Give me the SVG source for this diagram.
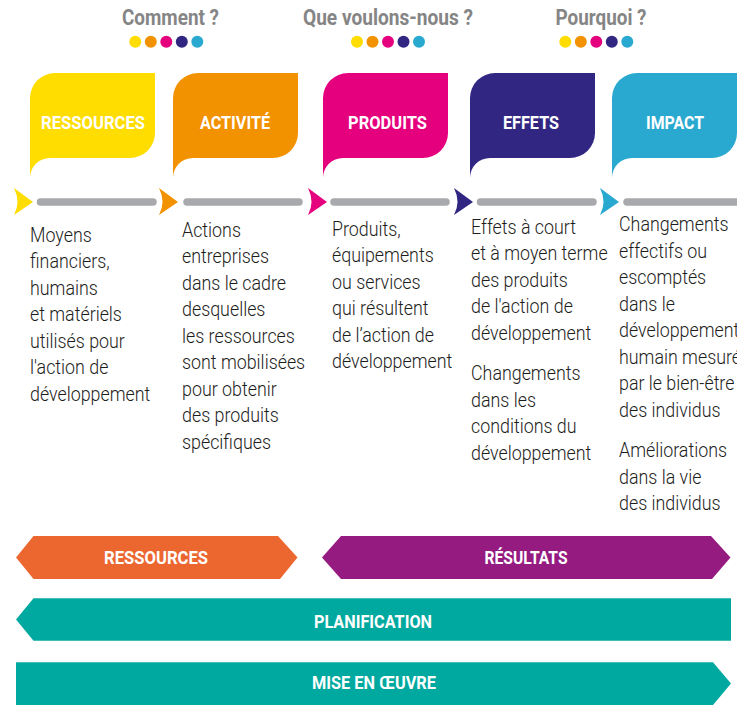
<svg xmlns="http://www.w3.org/2000/svg" xmlns:xlink="http://www.w3.org/1999/xlink" width="737" height="705" viewBox="0 0 737 705">
<style>
.hdr{font-family:Roboto,"Liberation Sans",sans-serif;font-weight:700;font-size:22px;fill:#858585;}
.lbl{font-family:Roboto,"Liberation Sans",sans-serif;font-weight:700;font-size:19px;fill:#ffffff;}
.body{font-family:Roboto,"Liberation Sans",sans-serif;font-weight:300;font-size:21px;fill:#1d1d1b;}
.bar{stroke:#a7a9ac;stroke-width:7.5;stroke-linecap:round;fill:none;}
</style>
<defs>
<path id="bubble" d="M0,105 L0,25 A25,25 0 0 1 25,0 L125,0 L125,60 A25,25 0 0 1 100,85 L20,85 A20,20 0 0 0 0,105 Z"/>
<path id="chev" d="M-19,-14 L0,0 L-19,13 Q-12,0 -19,-14 Z"/>
</defs>

<g id="headers">
<text class="hdr" x="170.5" y="25" text-anchor="middle" textLength="97" lengthAdjust="spacingAndGlyphs">Comment ?</text>
<text class="hdr" x="388" y="25" text-anchor="middle" textLength="170" lengthAdjust="spacingAndGlyphs">Que voulons-nous ?</text>
<text class="hdr" x="601" y="25" text-anchor="middle" textLength="91" lengthAdjust="spacingAndGlyphs">Pourquoi ?</text>
</g>
<g id="dots">
<g transform="translate(135.3,41.7)"><circle cx="0" r="6" fill="#ffdd00"/><circle cx="15.5" r="6" fill="#f39200"/><circle cx="31" r="6" fill="#e5007d"/><circle cx="46.5" r="6" fill="#312782"/><circle cx="62" r="6" fill="#29a9d0"/></g>
<g transform="translate(357,41.7)"><circle cx="0" r="6" fill="#ffdd00"/><circle cx="15.5" r="6" fill="#f39200"/><circle cx="31" r="6" fill="#e5007d"/><circle cx="46.5" r="6" fill="#312782"/><circle cx="62" r="6" fill="#29a9d0"/></g>
<g transform="translate(565.3,41.7)"><circle cx="0" r="6" fill="#ffdd00"/><circle cx="15.5" r="6" fill="#f39200"/><circle cx="31" r="6" fill="#e5007d"/><circle cx="46.5" r="6" fill="#312782"/><circle cx="62" r="6" fill="#29a9d0"/></g>
</g>

<g id="connectors">
<line class="bar" x1="40.5" y1="202" x2="153" y2="202"/>
<line class="bar" x1="187" y1="202" x2="299" y2="202"/>
<line class="bar" x1="334" y1="202" x2="446" y2="202"/>
<line class="bar" x1="480.5" y1="202" x2="593" y2="202"/>
<line class="bar" x1="627" y1="202" x2="745" y2="202"/>
<use xlink:href="#chev" href="#chev" transform="translate(33,202)" fill="#ffdd00"/>
<use xlink:href="#chev" href="#chev" transform="translate(178,202)" fill="#f39200"/>
<use xlink:href="#chev" href="#chev" transform="translate(327,202)" fill="#e5007d"/>
<use xlink:href="#chev" href="#chev" transform="translate(473,202)" fill="#312782"/>
<use xlink:href="#chev" href="#chev" transform="translate(619,202)" fill="#29a9d0"/>
</g>

<g id="ressources">
<use xlink:href="#bubble" href="#bubble" transform="translate(30,73)" fill="#ffdd00"/>
<text class="lbl" x="93" y="128.5" text-anchor="middle" textLength="104" lengthAdjust="spacingAndGlyphs">RESSOURCES</text>
<g transform="translate(30,0) scale(0.85,1)" class="body">
<text x="0" y="242">Moyens</text>
<text x="0" y="268.5">financiers,</text>
<text x="0" y="295">humains</text>
<text x="0" y="321.5">et matériels</text>
<text x="0" y="348">utilisés pour</text>
<text x="0" y="374.5">l'action de</text>
<text x="0" y="401">développement</text>
</g>
</g>

<g id="activite">
<use xlink:href="#bubble" href="#bubble" transform="translate(173,73)" fill="#f39200"/>
<text class="lbl" x="235" y="128.5" text-anchor="middle" textLength="70" lengthAdjust="spacingAndGlyphs">ACTIVITÉ</text>
<g transform="translate(182,0) scale(0.85,1)" class="body">
<text x="0" y="237">Actions</text>
<text x="0" y="263.5">entreprises</text>
<text x="0" y="290">dans le cadre</text>
<text x="0" y="316.5">desquelles</text>
<text x="0" y="343">les ressources</text>
<text x="0" y="369.5">sont mobilisées</text>
<text x="0" y="396">pour obtenir</text>
<text x="0" y="422.5">des produits</text>
<text x="0" y="449">spécifiques</text>
</g>
</g>

<g id="produits">
<use xlink:href="#bubble" href="#bubble" transform="translate(323,73)" fill="#e5007d"/>
<text class="lbl" x="387.5" y="128.5" text-anchor="middle" textLength="79" lengthAdjust="spacingAndGlyphs">PRODUITS</text>
<g transform="translate(332,0) scale(0.85,1)" class="body">
<text x="0" y="236">Produits,</text>
<text x="0" y="262.5">équipements</text>
<text x="0" y="289">ou services</text>
<text x="0" y="315.5">qui résultent</text>
<text x="0" y="342">de l’action de</text>
<text x="0" y="368.5">développement</text>
</g>
</g>

<g id="effets">
<use xlink:href="#bubble" href="#bubble" transform="translate(470,73)" fill="#312782"/>
<text class="lbl" x="531" y="128.5" text-anchor="middle" textLength="56" lengthAdjust="spacingAndGlyphs">EFFETS</text>
<g transform="translate(471,0) scale(0.85,1)" class="body">
<text x="0" y="234">Effets à court</text>
<text x="0" y="260.5">et à moyen terme</text>
<text x="0" y="287">des produits</text>
<text x="0" y="313.5">de l'action de</text>
<text x="0" y="340">développement</text>
<text x="0" y="380.5">Changements</text>
<text x="0" y="407">dans les</text>
<text x="0" y="433.5">conditions du</text>
<text x="0" y="460">développement</text>
</g>
</g>

<g id="impact">
<use xlink:href="#bubble" href="#bubble" transform="translate(612,73)" fill="#29a9d0"/>
<text class="lbl" x="675" y="128.5" text-anchor="middle" textLength="58" lengthAdjust="spacingAndGlyphs">IMPACT</text>
<g transform="translate(619,0) scale(0.85,1)" class="body">
<text x="0" y="231.5">Changements</text>
<text x="0" y="258">effectifs ou</text>
<text x="0" y="284.5">escomptés</text>
<text x="0" y="311">dans le</text>
<text x="0" y="337.5">développement</text>
<text x="0" y="364">humain mesuré</text>
<text x="0" y="390.5">par le bien-être</text>
<text x="0" y="417">des individus</text>
<text x="0" y="457.5">Améliorations</text>
<text x="0" y="484">dans la vie</text>
<text x="0" y="510.5">des individus</text>
</g>
</g>

<g id="band-ressources">
<polygon points="16,557.5 33.5,536 278,536 297.5,557.5 280,579 33.5,579" fill="#ec6630"/>
<text class="lbl" x="156" y="563.5" text-anchor="middle" textLength="104" lengthAdjust="spacingAndGlyphs">RESSOURCES</text>
</g>
<g id="band-resultats">
<polygon points="322,557.5 341,536 711,536 730.5,557.5 712,579 341,579" fill="#951b80"/>
<text class="lbl" x="526" y="563.5" text-anchor="middle" textLength="83" lengthAdjust="spacingAndGlyphs">RÉSULTATS</text>
</g>
<g id="band-planification">
<polygon points="16,619.5 33.5,598.3 731,598.3 731,640.7 33.5,640.7" fill="#00a99f"/>
<text class="lbl" x="373" y="627.5" text-anchor="middle" textLength="118" lengthAdjust="spacingAndGlyphs">PLANIFICATION</text>
</g>
<g id="band-mise">
<polygon points="16,662.3 713,662.3 731,683.5 713,705 16,705" fill="#00a99f"/>
<text class="lbl" x="374" y="688.5" text-anchor="middle" textLength="124" lengthAdjust="spacingAndGlyphs">MISE EN ŒUVRE</text>
</g>
</svg>
